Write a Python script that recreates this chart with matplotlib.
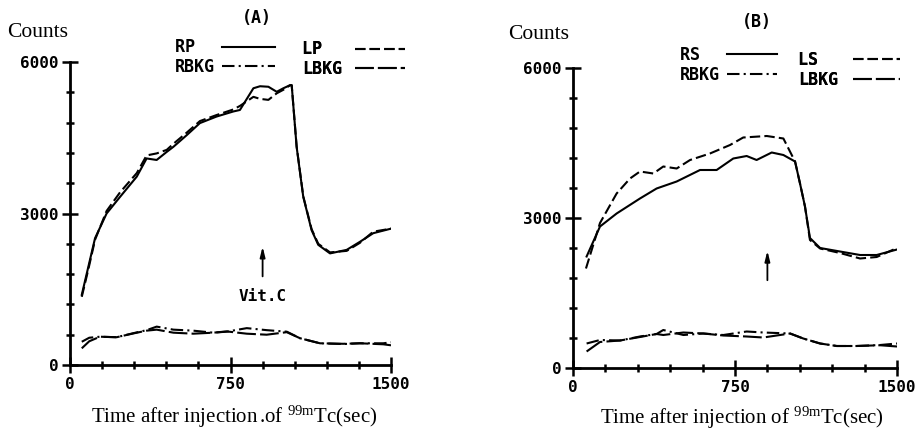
import numpy as np
import matplotlib
matplotlib.use('Agg')
from matplotlib import pyplot as plt
from matplotlib.ticker import MultipleLocator

plt.rcParams['mathtext.fontset'] = 'custom'
plt.rcParams['mathtext.rm'] = 'Liberation Serif'
plt.rcParams['mathtext.it'] = 'Liberation Serif:italic'

# panel A: parotid (RP / LP) and background (RBKG / LBKG)
tA_p = [55, 86, 117, 171, 234, 312, 358, 405, 452, 483, 545, 607, 685, 763, 794, 857, 888,
        927, 966, 997, 1028, 1036, 1059, 1090, 1129, 1160, 1215, 1293, 1355, 1417, 1500]
RP = [1390, 1950, 2510, 3000, 3330, 3730, 4090, 4060, 4220, 4320, 4550, 4790, 4920, 5020, 5050,
      5480, 5520, 5510, 5410, 5480, 5540, 5540, 4320, 3330, 2670, 2380, 2210, 2280, 2440, 2610, 2700]
LP = [1350, 1900, 2480, 3050, 3420, 3800, 4150, 4190, 4260, 4380, 4600, 4830, 4950, 5060, 5130,
      5310, 5270, 5250, 5380, 5450, 5540, 5540, 4330, 3340, 2690, 2400, 2230, 2260, 2420, 2640, 2700]

tA_b = [55, 90, 140, 218, 296, 358, 405, 483, 576, 670, 732, 826, 919, 1013, 1075, 1168, 1277,
        1355, 1464, 1500]
RBKG_A = [460, 540, 560, 550, 630, 690, 760, 700, 680, 640, 660, 730, 690, 660, 530, 430, 415,
          430, 430, 450]
LBKG_A = [330, 470, 560, 550, 625, 680, 700, 640, 620, 640, 665, 620, 600, 650, 530, 430, 420,
          430, 410, 390]

# panel B: submandibular (RS / LS) and background
tB_rs = [63, 125, 202, 310, 387, 480, 588, 665, 742, 804, 850, 920, 974, 1028, 1051, 1074, 1097,
         1144, 1236, 1329, 1406, 1500]
RS = [2230, 2830, 3090, 3390, 3590, 3730, 3960, 3960, 4190, 4240, 4160, 4310, 4260, 4130, 3690,
      3230, 2600, 2400, 2330, 2260, 2260, 2370]
tB_ls = [60, 125, 202, 264, 310, 372, 418, 480, 542, 634, 727, 788, 897, 974, 1028, 1051, 1074,
         1097, 1144, 1236, 1329, 1406, 1500]
LS = [1990, 2900, 3490, 3790, 3930, 3890, 4030, 3990, 4160, 4290, 4460, 4610, 4640, 4590, 4130,
      3690, 3230, 2560, 2390, 2300, 2190, 2220, 2400]

tB_b = [63, 125, 218, 310, 387, 418, 511, 603, 696, 804, 881, 1005, 1066, 1144, 1221, 1313,
        1422, 1500]
RBKG_B = [490, 560, 550, 630, 680, 760, 660, 690, 660, 730, 710, 690, 590, 490, 440, 440, 460, 490]
LBKG_B = [330, 520, 550, 620, 680, 660, 710, 690, 650, 630, 610, 690, 590, 490, 440, 440, 455, 430]

vitc_time = 900
arrow_lo, arrow_hi = 1700, 2400

MONO = dict(family='DejaVu Sans Mono', weight='bold')
SERIF = 'Liberation Serif'
LW = 1.5

fig = plt.figure(figsize=(9.18, 4.33), dpi=100)
axA = fig.add_axes([70 / 918, 1 - 365 / 433, 321 / 918, 303 / 433])
axB = fig.add_axes([573 / 918, 1 - 368 / 433, 324 / 918, 300 / 433])


def style_axis(ax):
    ax.set_xlim(0, 1500)
    ax.set_ylim(0, 6000)
    ax.spines['top'].set_visible(False)
    ax.spines['right'].set_visible(False)
    for s in ('left', 'bottom'):
        ax.spines[s].set_linewidth(2)
    ax.set_xticks([0, 750, 1500])
    ax.set_yticks([0, 3000, 6000])
    ax.xaxis.set_minor_locator(MultipleLocator(150))
    ax.yaxis.set_minor_locator(MultipleLocator(600))
    ax.tick_params(which='major', direction='inout', length=11, width=1.8, pad=3)
    ax.tick_params(which='minor', direction='inout', length=6, width=1.8)
    for lab in ax.get_xticklabels() + ax.get_yticklabels():
        lab.set_fontfamily('DejaVu Sans Mono')
        lab.set_fontweight('bold')
        lab.set_fontsize(11.5)
    ax.patch.set_alpha(0)


def add_legend(ax, handles, labels, anchor, pad, hlen):
    leg = ax.legend(handles, labels, markerfirst=False, frameon=False,
                    loc='upper left', bbox_to_anchor=anchor, borderpad=0, borderaxespad=0,
                    handlelength=hlen, handletextpad=pad, labelspacing=0.1,
                    prop=dict(family='DejaVu Sans Mono', weight='bold', size=12))
    for col in leg._legend_handle_box.get_children():
        col.align = 'left'
    ax.add_artist(leg)
    return leg


# ---- panel A
style_axis(axA)
l1, = axA.plot(tA_p, RP, color='k', lw=LW, ls='-')
l3, = axA.plot(tA_p, LP, color='k', lw=LW, ls=(0, (5, 2)))
l2, = axA.plot(tA_b, RBKG_A, color='k', lw=LW, ls=(0, (6, 2, 1, 2)))
l4, = axA.plot(tA_b, LBKG_A, color='k', lw=LW, ls=(0, (9, 2)))
add_legend(axA, [l1, l2], ['RP  ', 'RBKG'], (0.327, 1.078), 0.4, 3.2)
add_legend(axA, [l3, l4], ['LP  ', 'LBKG'], (0.723, 1.071), 0.75, 3.0)
axA.annotate('', xy=(vitc_time, arrow_hi), xytext=(vitc_time, arrow_lo),
             arrowprops=dict(arrowstyle='-|>,head_length=0.6,head_width=0.15', color='k', lw=1.3))
axA.text(vitc_time, arrow_lo - 350, 'Vit.C', ha='center', va='center', fontsize=11.5, **MONO)
axA.text(0.583, 1.145, '(A)', transform=axA.transAxes, ha='center', va='center', fontsize=12, **MONO)
axA.text(-0.196, 1.096, 'Counts', transform=axA.transAxes, ha='left', va='center',
         fontsize=15.5, family=SERIF)
axA.text(0.512, -0.172, r'Time after injection$\,$.of $^{\mathrm{99m}}$Tc(sec)',
         transform=axA.transAxes, ha='center', va='center', fontsize=15, family=SERIF)

# ---- panel B
style_axis(axB)
m1, = axB.plot(tB_rs, RS, color='k', lw=LW, ls='-')
m3, = axB.plot(tB_ls, LS, color='k', lw=LW, ls=(0, (5, 2)))
m2, = axB.plot(tB_b, RBKG_B, color='k', lw=LW, ls=(0, (6, 2, 1, 2)))
m4, = axB.plot(tB_b, LBKG_B, color='k', lw=LW, ls=(0, (9, 2)))
add_legend(axB, [m1, m2], ['RS  ', 'RBKG'], (0.33, 1.073), 0.4, 3.05)
add_legend(axB, [m3, m4], ['LS  ', 'LBKG'], (0.694, 1.057), 0.9, 2.8)
axB.annotate('', xy=(vitc_time, arrow_hi), xytext=(vitc_time, arrow_lo),
             arrowprops=dict(arrowstyle='-|>,head_length=0.6,head_width=0.15', color='k', lw=1.3))
axB.text(0.568, 1.153, '(B)', transform=axB.transAxes, ha='center', va='center', fontsize=12, **MONO)
axB.text(-0.2, 1.11, 'Counts', transform=axB.transAxes, ha='left', va='center',
         fontsize=15.5, family=SERIF)
axB.text(0.52, -0.165, r'Time after injection of $^{\mathrm{99m}}$Tc(sec)',
         transform=axB.transAxes, ha='center', va='center', fontsize=15, family=SERIF)

fig.savefig('out.png', dpi=100)
